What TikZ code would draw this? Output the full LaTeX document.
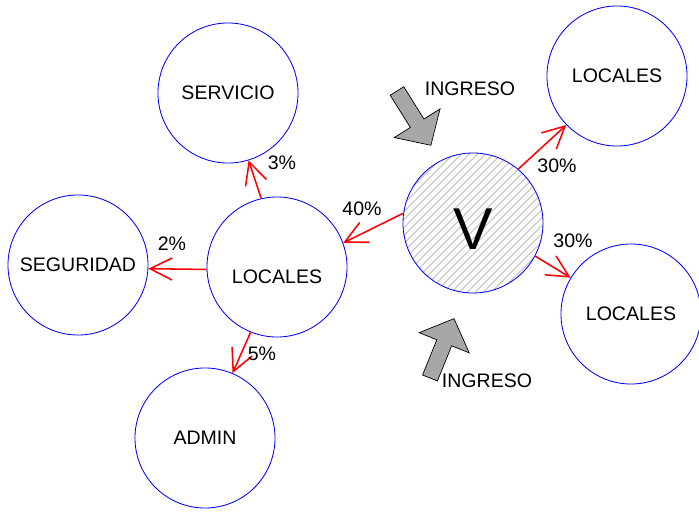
\documentclass[tikz,border=0pt]{standalone}
\usepackage{fontspec}
\setmainfont{Liberation Sans}
\usetikzlibrary{arrows.meta, patterns.meta}

\begin{document}
\begin{tikzpicture}[
  x=0.025cm, y=-0.025cm,
  font=\fontsize{13.9}{16}\selectfont,
  lugar/.style={circle, draw=blue, line width=0.6pt, minimum size=3.5cm, inner sep=0pt},
  centro/.style={lugar, pattern={Lines[angle=45, distance=4pt, line width=0.45pt]}, pattern color=gray!90!black},
  flujo/.style={-{Straight Barb[length=5.5mm, width=5.5mm]}, draw=red, line width=1.1pt},
  ingreso/.pic={\draw[fill=gray!85!black!60, draw=black, line width=0.5pt]
    (0,-8) -- (38,-8) -- (38,-27) -- (64,0) -- (38,27) -- (38,8) -- (0,8) -- cycle;}
]
\useasboundingbox (0,0) rectangle (699,513);

% --- circles ---
\node[centro, label={[font=\fontsize{42}{48}\selectfont, yshift=-0.15cm]center:V}] (v) at (473,223) {};
\node[lugar, label={[yshift=-0.25cm]center:LOCALES}] (loc) at (277,267) {};
\node[lugar] (serv) at (228,93) {SERVICIO};
\node[lugar] (seg) at (78,265) {SEGURIDAD};
\node[lugar] (admin) at (205,438) {ADMIN\hspace{0.3cm}};
\node[lugar] (locA) at (617,76) {LOCALES};
\node[lugar] (locB) at (631,314) {LOCALES};

% --- incoming flows ---
\pic[rotate=-58] at (397,91) {ingreso};
\pic[rotate=68] at (430,378) {ingreso};
\node (ingA) at (470,89) {INGRESO};
\node (ingB) at (487,381) {INGRESO};

% --- distribution ---
\draw[flujo] (v.172) -- (loc.20);
\draw[flujo] (v.50) -- (locA.224);
\draw[flujo] (v.332) -- (locB.149);
\draw[flujo] (loc.103) -- (serv.287);
\draw[flujo] (loc.182) -- (seg.357);
\draw[flujo] (loc.248) -- (admin.67);

% percentages
\node at (362,209) {40\%};
\node at (557,166) {30\%};
\node at (573,241) {30\%};
\node at (282,163) {3\%};
\node at (172,244) {2\%};
\node at (262,354) {5\%};

\end{tikzpicture}
\end{document}
